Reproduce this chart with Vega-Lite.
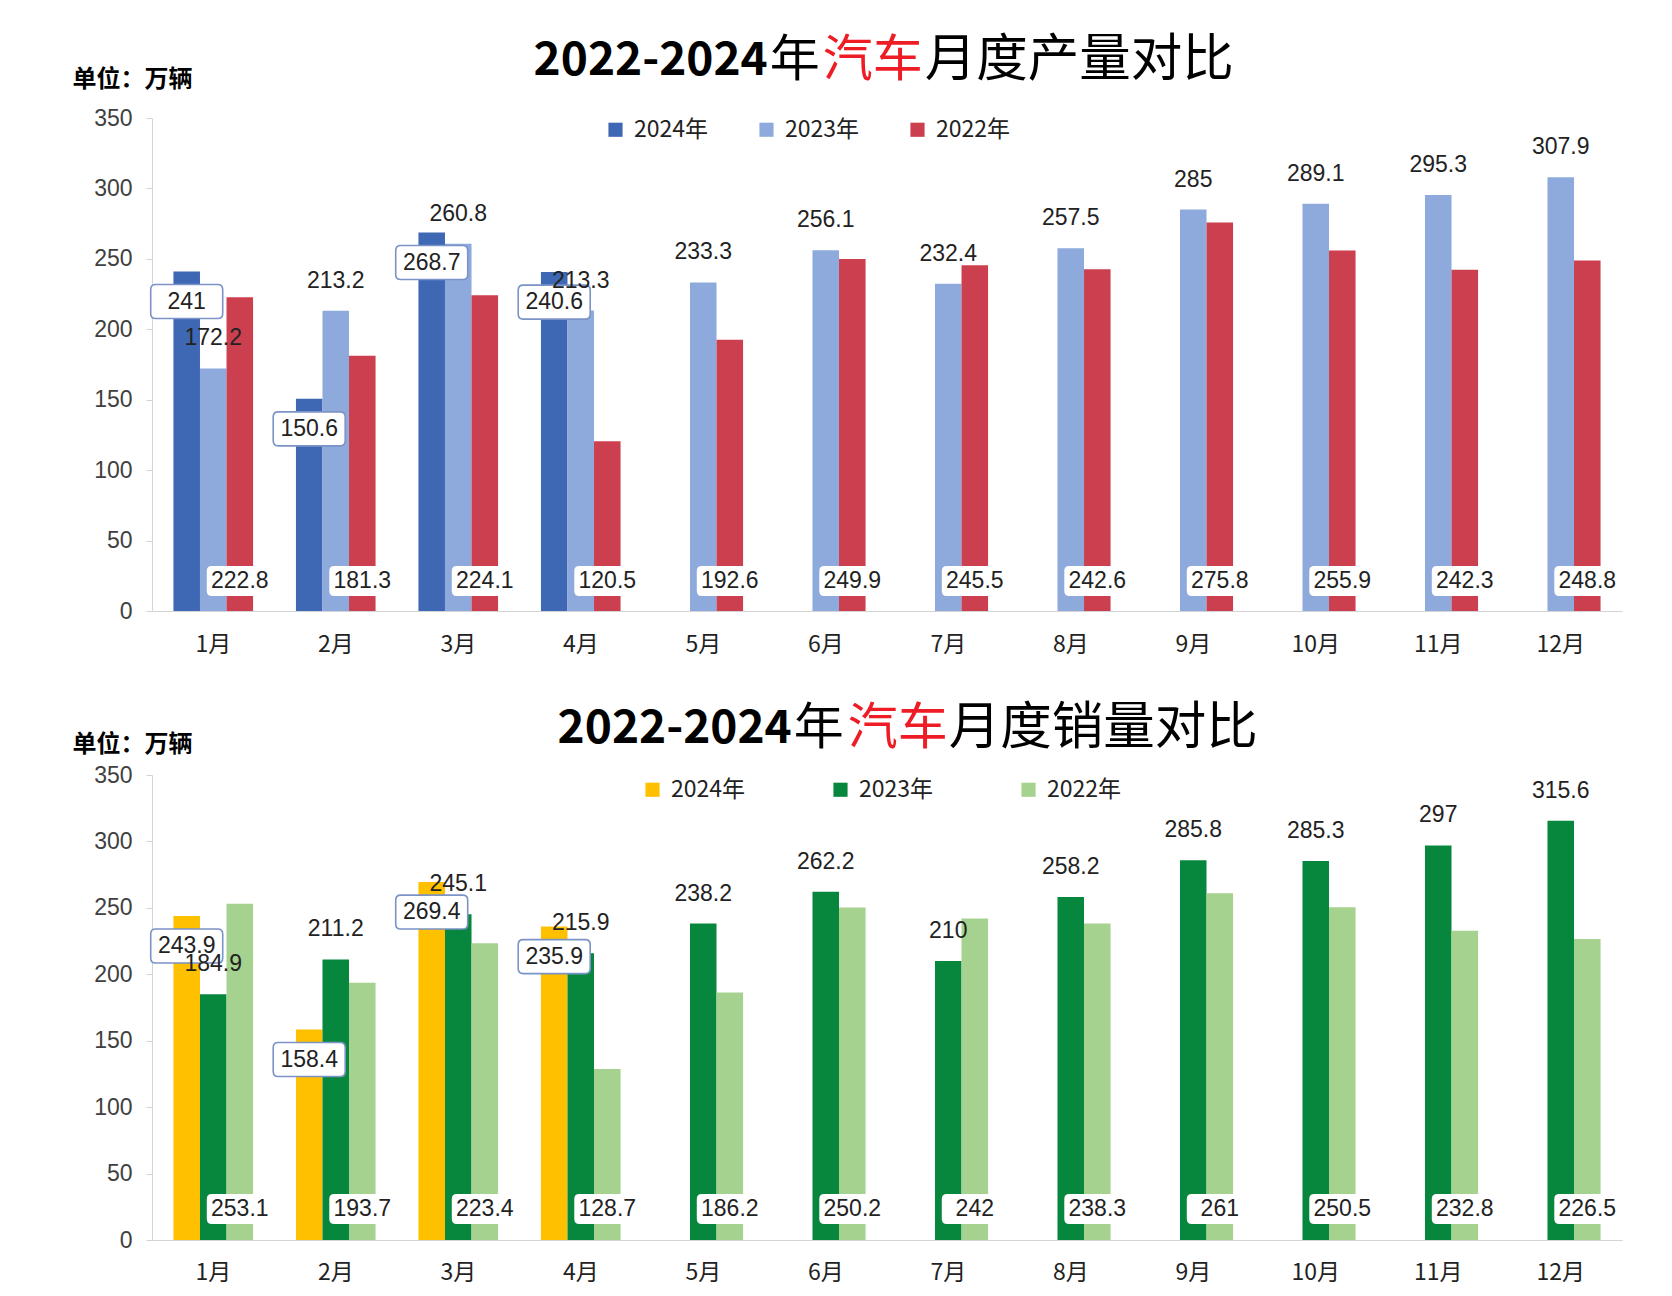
{
  "$schema": "https://vega.github.io/schema/vega-lite/v6.json",
  "background": "white",
  "padding": {"left": 72, "top": 35, "right": 50, "bottom": 10},
  "config": {
    "view": {"stroke": null},
    "axis": {"grid": false, "domainColor": "#d4d4d4", "tickColor": "#d4d4d4"},
    "text": {"font": "Liberation Sans"}
  },
  "datasets": {
    "prod": [
      {"month": "1月", "year": "2024年", "value": 241},
      {"month": "2月", "year": "2024年", "value": 150.6},
      {"month": "3月", "year": "2024年", "value": 268.7},
      {"month": "4月", "year": "2024年", "value": 240.6},
      {"month": "1月", "year": "2023年", "value": 172.2},
      {"month": "2月", "year": "2023年", "value": 213.2},
      {"month": "3月", "year": "2023年", "value": 260.8},
      {"month": "4月", "year": "2023年", "value": 213.3},
      {"month": "5月", "year": "2023年", "value": 233.3},
      {"month": "6月", "year": "2023年", "value": 256.1},
      {"month": "7月", "year": "2023年", "value": 232.4},
      {"month": "8月", "year": "2023年", "value": 257.5},
      {"month": "9月", "year": "2023年", "value": 285},
      {"month": "10月", "year": "2023年", "value": 289.1},
      {"month": "11月", "year": "2023年", "value": 295.3},
      {"month": "12月", "year": "2023年", "value": 307.9},
      {"month": "1月", "year": "2022年", "value": 222.8},
      {"month": "2月", "year": "2022年", "value": 181.3},
      {"month": "3月", "year": "2022年", "value": 224.1},
      {"month": "4月", "year": "2022年", "value": 120.5},
      {"month": "5月", "year": "2022年", "value": 192.6},
      {"month": "6月", "year": "2022年", "value": 249.9},
      {"month": "7月", "year": "2022年", "value": 245.5},
      {"month": "8月", "year": "2022年", "value": 242.6},
      {"month": "9月", "year": "2022年", "value": 275.8},
      {"month": "10月", "year": "2022年", "value": 255.9},
      {"month": "11月", "year": "2022年", "value": 242.3},
      {"month": "12月", "year": "2022年", "value": 248.8}
    ],
    "sales": [
      {"month": "1月", "year": "2024年", "value": 243.9},
      {"month": "2月", "year": "2024年", "value": 158.4},
      {"month": "3月", "year": "2024年", "value": 269.4},
      {"month": "4月", "year": "2024年", "value": 235.9},
      {"month": "1月", "year": "2023年", "value": 184.9},
      {"month": "2月", "year": "2023年", "value": 211.2},
      {"month": "3月", "year": "2023年", "value": 245.1},
      {"month": "4月", "year": "2023年", "value": 215.9},
      {"month": "5月", "year": "2023年", "value": 238.2},
      {"month": "6月", "year": "2023年", "value": 262.2},
      {"month": "7月", "year": "2023年", "value": 210},
      {"month": "8月", "year": "2023年", "value": 258.2},
      {"month": "9月", "year": "2023年", "value": 285.8},
      {"month": "10月", "year": "2023年", "value": 285.3},
      {"month": "11月", "year": "2023年", "value": 297},
      {"month": "12月", "year": "2023年", "value": 315.6},
      {"month": "1月", "year": "2022年", "value": 253.1},
      {"month": "2月", "year": "2022年", "value": 193.7},
      {"month": "3月", "year": "2022年", "value": 223.4},
      {"month": "4月", "year": "2022年", "value": 128.7},
      {"month": "5月", "year": "2022年", "value": 186.2},
      {"month": "6月", "year": "2022年", "value": 250.2},
      {"month": "7月", "year": "2022年", "value": 242},
      {"month": "8月", "year": "2022年", "value": 238.3},
      {"month": "9月", "year": "2022年", "value": 261},
      {"month": "10月", "year": "2022年", "value": 250.5},
      {"month": "11月", "year": "2022年", "value": 232.8},
      {"month": "12月", "year": "2022年", "value": 226.5}
    ]
  },
  "bounds": "flush",
  "spacing": 164,
  "resolve": {"scale": {"color": "independent", "y": "independent", "x": "independent", "xOffset": "independent"}, "legend": {"color": "independent"}},
  "vconcat": [
    {
      "width": 1470,
      "height": 493,
      "layer": [
        {
          "data": {"name": "prod"},
          "encoding": {
            "x": {"field": "month", "type": "nominal", "scale": {"domain": ["1月","2月","3月","4月","5月","6月","7月","8月","9月","10月","11月","12月"], "paddingInner": 0.35, "paddingOuter": 0.175},
                  "axis": {"title": null, "ticks": false, "labelAngle": 0, "labelPadding": 22, "labelFont": "Noto Sans CJK SC", "labelFontSize": 23, "labelColor": "#222222", "domainColor": "#d4d4d4"}},
            "xOffset": {"field": "year", "type": "nominal", "scale": {"domain": ["2024年","2023年","2022年"], "paddingInner": 0, "paddingOuter": 0}},
            "y": {"field": "value", "type": "quantitative", "scale": {"domain": [0, 350], "nice": false},
                  "axis": {"values": [0,50,100,150,200,250,300,350], "title": "单位：万辆", "titleAngle": 0, "titleAlign": "left", "titleBaseline": "middle", "titleX": -80, "titleY": -39, "titleFont": "Noto Sans CJK SC", "titleFontSize": 24, "titleFontWeight": "bold", "titleColor": "#000000", "labelFont": "Liberation Sans", "labelFontSize": 23, "labelColor": "#404040", "tickSize": 6, "labelPadding": 14}}
          },
          "layer": [
            {"mark": {"type": "bar"},
             "encoding": {"color": {"field": "year", "type": "nominal", "scale": {"domain": ["2024年","2023年","2022年"], "range": ["#3e67b4","#8eaadc","#cc3f4e"]},
               "legend": {"orient": "none", "legendX": 452, "legendY": 0, "direction": "horizontal", "columns": 3, "title": null, "symbolType": "square", "symbolSize": 200, "symbolStrokeWidth": 0, "labelFont": "Noto Sans CJK SC", "labelFontSize": 23, "labelColor": "#222222", "labelOffset": 7, "columnPadding": 46}}}},
            {"transform": [{"filter": "datum.year === '2024年'"}],
             "mark": {"type": "point", "shape": "M -0.86 -0.472 L 0.86 -0.472 Q 1 -0.472 1 -0.332 L 1 0.332 Q 1 0.472 0.86 0.472 L -0.86 0.472 Q -1 0.472 -1 0.332 L -1 -0.332 Q -1 -0.472 -0.86 -0.472 Z", "size": 5184, "filled": true, "fill": "#ffffff", "stroke": "#7b93c6", "strokeWidth": 1.6, "opacity": 1, "yOffset": 30}},
            {"transform": [{"filter": "datum.year === '2024年'"}],
             "mark": {"type": "text", "fontSize": 23, "color": "#222222", "yOffset": 30, "baseline": "middle"},
             "encoding": {"text": {"field": "value", "type": "nominal"}}},
            {"transform": [{"filter": "datum.year === '2022年'"}],
             "mark": {"type": "point", "shape": "M -0.85 -0.4545 L 0.85 -0.4545 Q 1 -0.4545 1 -0.3045 L 1 0.3045 Q 1 0.4545 0.85 0.4545 L -0.85 0.4545 Q -1 0.4545 -1 0.3045 L -1 -0.3045 Q -1 -0.4545 -0.85 -0.4545 Z", "size": 4356, "filled": true, "fill": "#ffffff", "strokeWidth": 0, "opacity": 1, "yOffset": -30},
             "encoding": {"y": {"datum": 0, "type": "quantitative"}}},
            {"transform": [{"filter": "datum.year === '2022年'"}],
             "mark": {"type": "text", "fontSize": 23, "color": "#222222", "yOffset": -30, "baseline": "middle"},
             "encoding": {"y": {"datum": 0, "type": "quantitative"}, "text": {"field": "value", "type": "nominal"}}},
            {"transform": [{"filter": "datum.year === '2023年'"}],
             "mark": {"type": "text", "fontSize": 23, "color": "#222222", "yOffset": -30, "baseline": "middle"},
             "encoding": {"text": {"field": "value", "type": "nominal"}}}
          ]
        },
        {"data": {"values": [{}]},
         "mark": {"type": "text", "text": "2022-2024", "font": "Noto Sans CJK SC", "fontSize": 46, "fontWeight": "bold", "align": "right", "baseline": "middle", "color": "#000000", "dx": -58, "yOffset": -57},
         "encoding": {"x": {"datum": "6月", "type": "nominal"}, "y": {"datum": 350, "type": "quantitative"}}},
        {"data": {"values": [{}]},
         "mark": {"type": "text", "text": "年", "font": "Noto Sans CJK SC", "fontSize": 50, "align": "left", "baseline": "middle", "color": "#000000", "dx": -56, "yOffset": -57},
         "encoding": {"x": {"datum": "6月", "type": "nominal"}, "y": {"datum": 350, "type": "quantitative"}}},
        {"data": {"values": [{}]},
         "mark": {"type": "text", "text": "汽车", "font": "Noto Sans CJK SC", "fontSize": 50, "align": "left", "baseline": "middle", "color": "#ee1c25", "dx": -3, "yOffset": -57},
         "encoding": {"x": {"datum": "6月", "type": "nominal"}, "y": {"datum": 350, "type": "quantitative"}}},
        {"data": {"values": [{}]},
         "mark": {"type": "text", "text": "月度产量对比", "font": "Noto Sans CJK SC", "fontSize": 51.5, "align": "left", "baseline": "middle", "color": "#000000", "dx": 99, "yOffset": -57},
         "encoding": {"x": {"datum": "6月", "type": "nominal"}, "y": {"datum": 350, "type": "quantitative"}}}
      ]
    },
    {
      "width": 1470,
      "height": 465,
      "layer": [
        {
          "data": {"name": "sales"},
          "encoding": {
            "x": {"field": "month", "type": "nominal", "scale": {"domain": ["1月","2月","3月","4月","5月","6月","7月","8月","9月","10月","11月","12月"], "paddingInner": 0.35, "paddingOuter": 0.175},
                  "axis": {"title": null, "ticks": false, "labelAngle": 0, "labelPadding": 21, "labelFont": "Noto Sans CJK SC", "labelFontSize": 23, "labelColor": "#222222", "domainColor": "#d4d4d4"}},
            "xOffset": {"field": "year", "type": "nominal", "scale": {"domain": ["2024年","2023年","2022年"], "paddingInner": 0, "paddingOuter": 0}},
            "y": {"field": "value", "type": "quantitative", "scale": {"domain": [0, 350], "nice": false},
                  "axis": {"values": [0,50,100,150,200,250,300,350], "title": "单位：万辆", "titleAngle": 0, "titleAlign": "left", "titleBaseline": "middle", "titleX": -80, "titleY": -31, "titleFont": "Noto Sans CJK SC", "titleFontSize": 24, "titleFontWeight": "bold", "titleColor": "#000000", "labelFont": "Liberation Sans", "labelFontSize": 23, "labelColor": "#404040", "tickSize": 6, "labelPadding": 14}}
          },
          "layer": [
            {"mark": {"type": "bar"},
             "encoding": {"color": {"field": "year", "type": "nominal", "scale": {"domain": ["2024年","2023年","2022年"], "range": ["#ffc000","#07873d","#a5d28e"]},
               "legend": {"orient": "none", "legendX": 489, "legendY": 3, "direction": "horizontal", "columns": 3, "title": null, "symbolType": "square", "symbolSize": 200, "symbolStrokeWidth": 0, "labelFont": "Noto Sans CJK SC", "labelFontSize": 23, "labelColor": "#222222", "labelOffset": 7, "columnPadding": 83}}}},
            {"transform": [{"filter": "datum.year === '2024年'"}],
             "mark": {"type": "point", "shape": "M -0.86 -0.472 L 0.86 -0.472 Q 1 -0.472 1 -0.332 L 1 0.332 Q 1 0.472 0.86 0.472 L -0.86 0.472 Q -1 0.472 -1 0.332 L -1 -0.332 Q -1 -0.472 -0.86 -0.472 Z", "size": 5184, "filled": true, "fill": "#ffffff", "stroke": "#7b93c6", "strokeWidth": 1.6, "opacity": 1, "yOffset": 30}},
            {"transform": [{"filter": "datum.year === '2024年'"}],
             "mark": {"type": "text", "fontSize": 23, "color": "#222222", "yOffset": 30, "baseline": "middle"},
             "encoding": {"text": {"field": "value", "type": "nominal"}}},
            {"transform": [{"filter": "datum.year === '2022年'"}],
             "mark": {"type": "point", "shape": "M -0.85 -0.4545 L 0.85 -0.4545 Q 1 -0.4545 1 -0.3045 L 1 0.3045 Q 1 0.4545 0.85 0.4545 L -0.85 0.4545 Q -1 0.4545 -1 0.3045 L -1 -0.3045 Q -1 -0.4545 -0.85 -0.4545 Z", "size": 4356, "filled": true, "fill": "#ffffff", "strokeWidth": 0, "opacity": 1, "yOffset": -31},
             "encoding": {"y": {"datum": 0, "type": "quantitative"}}},
            {"transform": [{"filter": "datum.year === '2022年'"}],
             "mark": {"type": "text", "fontSize": 23, "color": "#222222", "yOffset": -31, "baseline": "middle"},
             "encoding": {"y": {"datum": 0, "type": "quantitative"}, "text": {"field": "value", "type": "nominal"}}},
            {"transform": [{"filter": "datum.year === '2023年'"}],
             "mark": {"type": "text", "fontSize": 23, "color": "#222222", "yOffset": -30, "baseline": "middle"},
             "encoding": {"text": {"field": "value", "type": "nominal"}}}
          ]
        },
        {"data": {"values": [{}]},
         "mark": {"type": "text", "text": "2022-2024", "font": "Noto Sans CJK SC", "fontSize": 46, "fontWeight": "bold", "align": "right", "baseline": "middle", "color": "#000000", "dx": -34, "yOffset": -46},
         "encoding": {"x": {"datum": "6月", "type": "nominal"}, "y": {"datum": 350, "type": "quantitative"}}},
        {"data": {"values": [{}]},
         "mark": {"type": "text", "text": "年", "font": "Noto Sans CJK SC", "fontSize": 50, "align": "left", "baseline": "middle", "color": "#000000", "dx": -32, "yOffset": -46},
         "encoding": {"x": {"datum": "6月", "type": "nominal"}, "y": {"datum": 350, "type": "quantitative"}}},
        {"data": {"values": [{}]},
         "mark": {"type": "text", "text": "汽车", "font": "Noto Sans CJK SC", "fontSize": 50, "align": "left", "baseline": "middle", "color": "#ee1c25", "dx": 22, "yOffset": -46},
         "encoding": {"x": {"datum": "6月", "type": "nominal"}, "y": {"datum": 350, "type": "quantitative"}}},
        {"data": {"values": [{}]},
         "mark": {"type": "text", "text": "月度销量对比", "font": "Noto Sans CJK SC", "fontSize": 51.5, "align": "left", "baseline": "middle", "color": "#000000", "dx": 123, "yOffset": -46},
         "encoding": {"x": {"datum": "6月", "type": "nominal"}, "y": {"datum": 350, "type": "quantitative"}}}
      ]
    }
  ]
}
